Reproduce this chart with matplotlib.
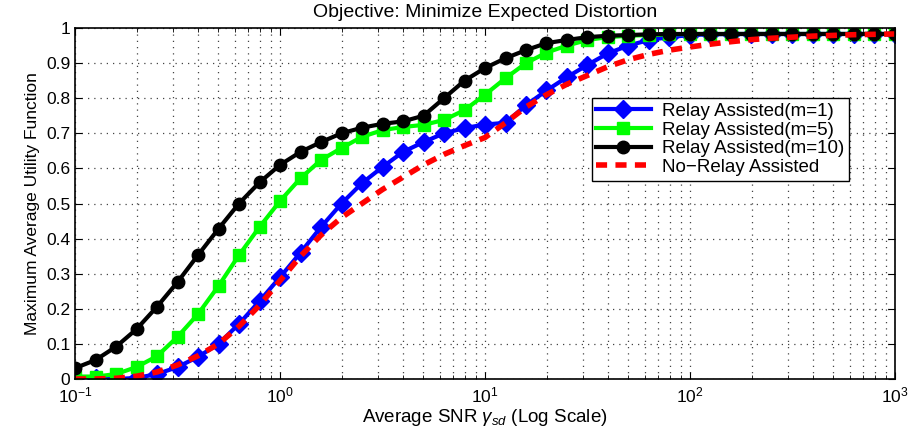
import numpy as np
import matplotlib
matplotlib.use("Agg")
import matplotlib.pyplot as plt
from matplotlib.ticker import FuncFormatter, MultipleLocator

plt.rcParams['font.family'] = ['Liberation Sans', 'DejaVu Sans']
plt.rcParams['mathtext.fontset'] = 'custom'
plt.rcParams['mathtext.rm'] = 'Liberation Sans'
plt.rcParams['mathtext.it'] = 'Liberation Sans:italic'

# SNR grid in dB (-10 dB .. 30 dB, 1 dB steps)
snr_db = np.arange(-10, 31)

relay_m1 = [0.003, 0.003, 0.0, 0.003, 0.014, 0.034, 0.063, 0.10, 0.157, 0.222,
            0.29, 0.36, 0.433, 0.50, 0.558, 0.604, 0.647, 0.675, 0.70, 0.715,
            0.725, 0.73, 0.78, 0.822, 0.86, 0.895, 0.928, 0.95, 0.966, 0.974,
            0.98, 0.982, 0.983, 0.983, 0.983, 0.983, 0.983, 0.983, 0.983, 0.983, 0.983]
relay_m5 = [0.007, 0.007, 0.014, 0.034, 0.065, 0.12, 0.185, 0.265, 0.353, 0.433,
            0.507, 0.572, 0.624, 0.658, 0.69, 0.709, 0.718, 0.724, 0.738, 0.766,
            0.81, 0.857, 0.90, 0.93, 0.95, 0.966, 0.974, 0.978, 0.98, 0.982,
            0.983, 0.983, 0.983, 0.983, 0.983, 0.983, 0.983, 0.983, 0.983, 0.983, 0.983]
relay_m10 = [0.031, 0.054, 0.092, 0.142, 0.206, 0.276, 0.353, 0.428, 0.50, 0.56,
             0.61, 0.647, 0.675, 0.70, 0.716, 0.727, 0.734, 0.75, 0.80, 0.85,
             0.886, 0.914, 0.937, 0.957, 0.966, 0.974, 0.978, 0.98, 0.982, 0.983,
             0.983, 0.983, 0.983, 0.983, 0.983, 0.983, 0.983, 0.983, 0.983, 0.983, 0.983]
no_relay = [0.0, 0.0, 0.002, 0.008, 0.02, 0.04, 0.066, 0.10, 0.15, 0.21,
            0.28, 0.35, 0.41, 0.46, 0.50, 0.54, 0.575, 0.61, 0.64, 0.665,
            0.688, 0.73, 0.775, 0.81, 0.84, 0.865, 0.89, 0.91, 0.925, 0.937,
            0.946, 0.954, 0.961, 0.967, 0.971, 0.974, 0.977, 0.979, 0.981, 0.982, 0.983]

x = 10 ** (snr_db / 10.0)

fig = plt.figure(figsize=(9.17, 4.33), dpi=100)
ax = fig.add_axes([0.0818, 0.1247, 0.8942, 0.8106])

ax.plot(x, relay_m1, '-D', color='blue', lw=3, ms=9, label='Relay Assisted(m=1)')
ax.plot(x, relay_m5, '-s', color='#00ff00', lw=3, ms=9, label='Relay Assisted(m=5)')
ax.plot(x, relay_m10, '-o', color='black', lw=3, ms=9, label='Relay Assisted(m=10)')
ax.plot(x, no_relay, '--', color='red', lw=4, dashes=(2, 1.5), label='No\u2212Relay Assisted')

ax.set_xscale('log')
ax.set_xlim(0.1, 1000)
ax.set_ylim(0, 1)
ax.yaxis.set_major_locator(MultipleLocator(0.1))
ax.yaxis.set_major_formatter(FuncFormatter(lambda v, p: '%g' % round(v, 2)))

ax.grid(True, which='major', ls=(0, (1, 4)), color='#444444', lw=0.9)
ax.grid(True, which='minor', axis='x', ls=(0, (1, 4)), color='#444444', lw=0.9)
ax.tick_params(which='both', direction='in', top=True, right=True, labelsize=12.5)
ax.tick_params(which='major', length=5)
ax.tick_params(which='minor', length=3)
ax.tick_params(axis='x', pad=5)
for s in ax.spines.values():
    s.set_linewidth(1.2)

ax.set_title('Objective: Minimize Expected Distortion', fontsize=14, pad=8)
ax.set_xlabel('Average SNR $\\gamma_{sd}$ (Log Scale)', fontsize=13.5, labelpad=1)
ax.set_ylabel('Maximum Average Utility Function', fontsize=12.5, labelpad=4)

leg = ax.legend(loc='upper left', bbox_to_anchor=(0.63, 0.80), fontsize=13.5,
                fancybox=False, framealpha=1, edgecolor='black',
                handlelength=2.9, borderpad=0.25, labelspacing=0.08,
                handletextpad=0.6, borderaxespad=0)
leg.get_frame().set_linewidth(1.0)

fig.savefig('out.png', dpi=100)
